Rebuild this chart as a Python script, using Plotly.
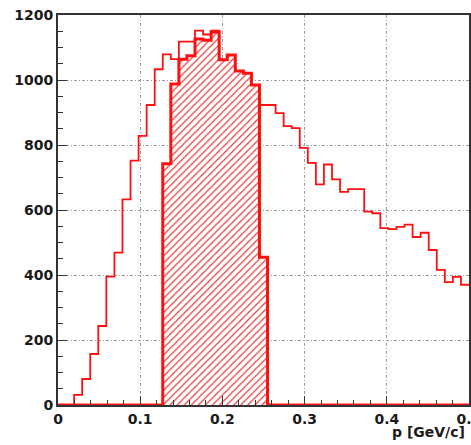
import numpy as np
import plotly.graph_objects as go

# ---- data ----
x_range = [0.0, 0.5]
n_bins = 51
full_counts = [0, 0, 31, 80, 157, 243, 395, 469, 633, 752,
               828, 923, 1033, 1079, 1064, 1118, 1118, 1152, 1140, 1152,
               1062, 1077, 1028, 1021, 985, 923, 923, 898, 858, 852,
               791, 745, 679, 740, 694, 656, 664, 664, 595, 590,
               544, 541, 548, 555, 517, 530, 477, 416, 378, 394,
               370]
sel_counts = [0, 0, 0, 0, 0, 0, 0, 0, 0, 0,
              0, 0, 0, 742, 988, 1064, 1075, 1126, 1122, 1148,
              1062, 1077, 1028, 1021, 985, 455, 0, 0, 0, 0,
              0, 0, 0, 0, 0, 0, 0, 0, 0, 0,
              0, 0, 0, 0, 0, 0, 0, 0, 0, 0,
              0]
x_ticks = [0, 0.1, 0.2, 0.3, 0.4, 0.5]
x_ticklabels = ["0", "0.1", "0.2", "0.3", "0.4", "0.5"]
y_ticks = [0, 200, 400, 600, 800, 1000, 1200]
x_title = "p [GeV/c]"

edges = np.linspace(x_range[0], x_range[1], n_bins + 1)
centers = (edges[:-1] + edges[1:]) / 2
bw = edges[1] - edges[0]

RED = "#ff1010"
FAM = "DejaVu Sans, Liberation Sans, Arial, sans-serif"
font = dict(family=FAM, size=14, color="#1a1a1a", weight="bold")

fig = go.Figure()

# hatched selected region
fig.add_trace(go.Bar(
    x=centers, y=sel_counts, width=bw,
    marker=dict(color="white", line=dict(width=0),
                pattern=dict(shape="/", fgcolor="#e8403c", bgcolor="white",
                             size=5, solidity=0.25, fillmode="replace")),
    hoverinfo="skip", showlegend=False))

# full histogram outline
fig.add_trace(go.Scatter(
    x=edges, y=list(full_counts) + [full_counts[-1]],
    mode="lines", line=dict(shape="hv", color=RED, width=1.8),
    showlegend=False, hoverinfo="skip"))

# selected histogram outline (thick)
fig.add_trace(go.Scatter(
    x=edges, y=list(sel_counts) + [sel_counts[-1]],
    mode="lines", line=dict(shape="hv", color=RED, width=3),
    showlegend=False, hoverinfo="skip"))

grid = dict(showgrid=True, gridcolor="#9a9a9a", gridwidth=1, griddash="3px,2px,1px,2px")

fig.update_xaxes(range=x_range, tickvals=x_ticks, ticktext=x_ticklabels,
                 ticks="inside", ticklen=9, tickwidth=1, tickcolor="#333",
                 minor=dict(dtick=0.02, ticks="inside", ticklen=5, tickcolor="#333", showgrid=False),
                 showline=True, linecolor="#333", linewidth=2, mirror=True,
                 zeroline=False, tickfont=font, automargin=False,
                 ticklabeloverflow="allow", **grid)
fig.update_yaxes(range=[0, 1200], tickvals=y_ticks,
                 ticks="inside", ticklen=9, tickwidth=1, tickcolor="#333",
                 minor=dict(dtick=50, ticks="inside", ticklen=5, tickcolor="#333", showgrid=False),
                 showline=True, linecolor="#333", linewidth=2, mirror=True,
                 zeroline=False, tickfont=font, automargin=False,
                 ticklabeloverflow="allow", **grid)

fig.add_annotation(text=x_title, xref="paper", yref="paper", x=0.995, y=0, yshift=-17,
                   xanchor="right", yanchor="top", showarrow=False,
                   font=dict(family=FAM, size=14, color="#1a1a1a", weight="bold"))

fig.update_layout(width=471, height=445,
                  margin=dict(l=58, r=2, t=15, b=40),
                  paper_bgcolor="white", plot_bgcolor="white",
                  bargap=0, barmode="overlay")

# remove the default page margin so the 471x445 figure fills the window exactly
fig.write_html("out.html",
               config={"displayModeBar": False},
               post_script="document.body.style.margin='0';"
                           "document.body.style.overflow='hidden';"
                           "document.documentElement.style.overflow='hidden';")
